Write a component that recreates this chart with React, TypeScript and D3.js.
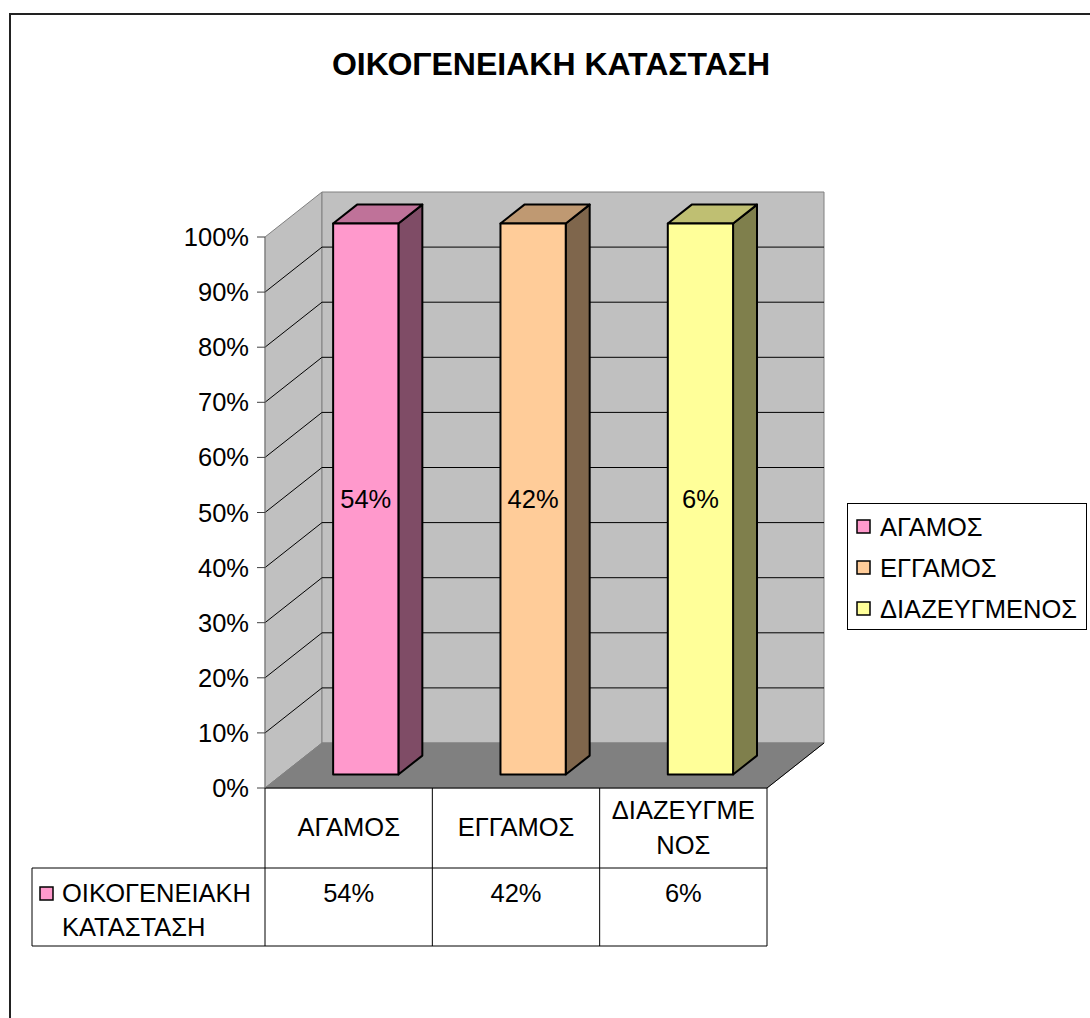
import * as d3 from 'd3';

// chart data
const categories = ['ΑΓΑΜΟΣ', 'ΕΓΓΑΜΟΣ', 'ΔΙΑΖΕΥΓΜΕΝΟΣ'];
const headerLines = [['ΑΓΑΜΟΣ'], ['ΕΓΓΑΜΟΣ'], ['ΔΙΑΖΕΥΓΜΕ', 'ΝΟΣ']];
const values = [0.54, 0.42, 0.06];
const seriesName = ['ΟΙΚΟΓΕΝΕΙΑΚΗ', 'ΚΑΤΑΣΤΑΣΗ'];
const title = 'ΟΙΚΟΓΕΝΕΙΑΚΗ ΚΑΤΑΣΤΑΣΗ';
const fills = ['#FF99CC', '#FFCC99', '#FFFF99'];
const sides = ['#7F4C66', '#7F664C', '#7F7F4C'];
const tops = ['#BF7299', '#BF9972', '#BFBF72'];

const W = 1090;
const H = 1018;
const font = 'Liberation Sans, Arial, sans-serif';
const fs = 25.5;

// 3D geometry
const DX = 57;
const DY = -45;
const f0 = 0.3;
const f1 = 0.72;

export default function App() {
  const y = d3.scaleLinear().domain([0, 1]).range([788, 237]);
  const x = d3
    .scaleBand<string>()
    .domain(categories)
    .range([265, 767])
    .paddingInner(0.61)
    .paddingOuter(0.305);
  const col = d3.scaleBand<string>().domain(categories).range([265, 767]);
  const fmt = d3.format('.0%');
  const ticks = y.ticks(10);

  const x0 = 265;
  const x1 = 767;
  const yTop = y(1);
  const yBot = y(0);
  const pts = (p: number[][]) => p.map((d) => d.join(',')).join(' ');

  // every category stacks to 100% (single series per category)
  const share = values.map((v) => v / v);

  return (
    <svg
      width={W}
      height={H}
      style={{ position: 'absolute', left: 0, top: 0, background: '#fff' }}
      fontFamily={font}
    >
      <rect x={10} y={14} width={W + 20} height={H + 20} fill="#fff" stroke="#222" strokeWidth={2} />
      <text x={551} y={64} textAnchor="middle" dominantBaseline="central" fontSize={32} fontWeight="bold">
        {title}
      </text>

      {/* walls */}
      <polygon
        points={pts([[x0, yBot], [x0, yTop], [x0 + DX, yTop + DY], [x0 + DX, yBot + DY]])}
        fill="#C0C0C0"
        stroke="#808080"
      />
      <polygon
        points={pts([[x0 + DX, yTop + DY], [x1 + DX, yTop + DY], [x1 + DX, yBot + DY], [x0 + DX, yBot + DY]])}
        fill="#C0C0C0"
        stroke="#808080"
      />
      {ticks.slice(1, -1).map((t) => (
        <g key={t}>
          <line x1={x0} y1={y(t)} x2={x0 + DX} y2={y(t) + DY} stroke="#000" />
          <line x1={x0 + DX} y1={y(t) + DY} x2={x1 + DX} y2={y(t) + DY} stroke="#000" />
        </g>
      ))}
      <polygon
        points={pts([[x0, yBot], [x1, yBot], [x1 + DX, yBot + DY], [x0 + DX, yBot + DY]])}
        fill="#808080"
        stroke="#808080"
      />
      <line x1={x1} y1={yBot} x2={x1 + DX} y2={yBot + DY} stroke="#000" />
      <line x1={x0} y1={yBot} x2={x1} y2={yBot} stroke="#000" />

      {/* axis */}
      <line x1={x0} y1={yTop} x2={x0} y2={yBot} stroke="#808080" />
      {ticks.map((t) => (
        <g key={t}>
          <line x1={x0 - 8} y1={y(t)} x2={x0} y2={y(t)} stroke="#404040" />
          <text x={249} y={y(t)} textAnchor="end" dominantBaseline="central" fontSize={fs}>
            {fmt(t)}
          </text>
        </g>
      ))}

      {/* bars */}
      {categories.map((c, i) => {
        const bx = (x(c) as number) + f0 * DX;
        const bw = x.bandwidth();
        const ty = y(share[i]) + f0 * DY;
        const by = y(0) + f0 * DY;
        const ddx = (f1 - f0) * DX;
        const ddy = (f1 - f0) * DY;
        return (
          <g key={c} stroke="#000" strokeWidth={2} strokeLinejoin="round">
            <polygon
              points={pts([[bx + bw, ty], [bx + bw + ddx, ty + ddy], [bx + bw + ddx, by + ddy], [bx + bw, by]])}
              fill={sides[i]}
            />
            <polygon
              points={pts([[bx, ty], [bx + ddx, ty + ddy], [bx + bw + ddx, ty + ddy], [bx + bw, ty]])}
              fill={tops[i]}
            />
            <rect x={bx} y={ty} width={bw} height={by - ty} fill={fills[i]} />
            <text
              x={bx + bw / 2}
              y={y(0.5) + f0 * DY}
              textAnchor="middle"
              dominantBaseline="central"
              fontSize={fs}
              stroke="none"
            >
              {fmt(values[i])}
            </text>
          </g>
        );
      })}

      {/* data table */}
      <g stroke="#000" strokeWidth={1}>
        {[...categories.map((c) => col(c) as number), x1].map((vx) => (
          <line key={vx} x1={vx} y1={yBot} x2={vx} y2={946} />
        ))}
        <line x1={32} y1={868} x2={x1} y2={868} />
        <line x1={32} y1={946} x2={x1} y2={946} />
        <line x1={32} y1={868} x2={32} y2={946} />
      </g>
      {categories.map((c, i) => {
        const cx = (col(c) as number) + col.bandwidth() / 2;
        const lines = headerLines[i];
        return (
          <g key={c} fontSize={fs} textAnchor="middle">
            {lines.map((l, j) => (
              <text
                key={j}
                x={cx}
                y={lines.length === 1 ? 827 : 810 + j * 35}
                dominantBaseline="central"
              >
                {l}
              </text>
            ))}
            <text x={cx} y={893} dominantBaseline="central">
              {fmt(values[i])}
            </text>
          </g>
        );
      })}
      <rect x={40} y={887} width={13} height={13} fill={fills[0]} stroke="#000" strokeWidth={1.5} />
      {seriesName.map((s, j) => (
        <text key={s} x={62} y={893 + j * 34} dominantBaseline="central" fontSize={fs}>
          {s}
        </text>
      ))}

      {/* legend */}
      <rect x={847.5} y={503.5} width={239} height={126} fill="#fff" stroke="#000" />
      {categories.map((c, i) => (
        <g key={c}>
          <rect x={857} y={520 + i * 41} width={13} height={13} fill={fills[i]} stroke="#000" strokeWidth={1.5} />
          <text x={880} y={527 + i * 41} dominantBaseline="central" fontSize={fs}>
            {c}
          </text>
        </g>
      ))}
    </svg>
  );
}
